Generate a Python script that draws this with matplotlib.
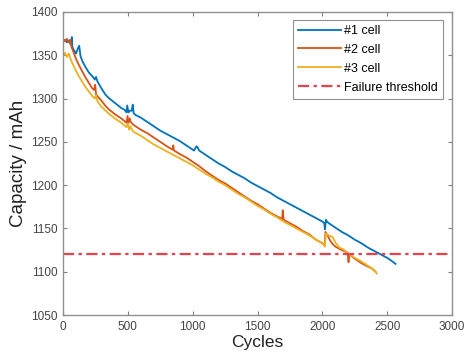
import matplotlib
matplotlib.use("Agg")
import matplotlib.pyplot as plt

# ---- data ----
c1 = [0,15,30,45,60,68,72,80,100,115,125,135,150,175,200,225,245,255,265,280,300,325,350,375,400,425,450,475,490,495,505,515,530,538,545,560,600,650,700,750,800,850,900,950,990,1000,1010,1030,1040,1050,1100,1150,1200,1250,1300,1350,1400,1450,1500,1550,1600,1650,1700,1750,1800,1850,1900,1950,2000,2015,2020,2028,2035,2050,2100,2150,2200,2250,2300,2350,2400,2450,2500,2530,2565]
v1 = [1366,1368,1365,1367,1362,1371,1360,1357,1352,1358,1361,1349,1343,1336,1330,1326,1322,1325,1320,1316,1311,1305,1301,1298,1295,1292,1289,1287,1284,1292,1284,1286,1286,1293,1283,1281,1278,1273,1268,1263,1259,1255,1251,1246,1242,1241,1240,1245,1243,1240,1235,1230,1225,1221,1216,1212,1208,1203,1199,1195,1191,1186,1182,1178,1174,1170,1166,1162,1158,1156,1149,1160,1158,1156,1151,1146,1142,1137,1133,1128,1124,1120,1116,1113,1109]

c2 = [0,15,30,45,55,65,80,100,125,150,175,200,225,240,248,255,270,300,325,350,375,400,450,490,498,505,515,522,540,560,600,650,700,750,800,845,850,856,900,950,1000,1050,1100,1150,1200,1250,1300,1350,1400,1450,1500,1550,1600,1650,1690,1695,1702,1750,1800,1850,1900,1950,2000,2018,2024,2040,2060,2080,2100,2150,2195,2202,2208,2250,2300,2350,2380,2410]
v2 = [1368,1366,1369,1365,1368,1360,1354,1346,1338,1331,1324,1318,1312,1310,1316,1305,1302,1297,1292,1288,1285,1282,1277,1272,1280,1272,1277,1273,1270,1268,1264,1260,1255,1250,1245,1241,1246,1240,1236,1232,1227,1222,1216,1211,1206,1202,1197,1192,1187,1182,1178,1173,1168,1164,1161,1171,1160,1156,1152,1147,1143,1137,1133,1130,1146,1142,1136,1132,1129,1125,1122,1111,1120,1115,1110,1106,1104,1100]

c3 = [0,15,30,45,60,75,100,125,150,175,200,225,245,255,265,300,350,400,450,490,500,510,520,540,600,650,700,750,800,850,900,950,1000,1050,1100,1150,1200,1250,1300,1350,1400,1450,1500,1550,1600,1650,1700,1750,1800,1850,1900,1950,2000,2020,2026,2050,2080,2100,2130,2160,2200,2250,2300,2350,2390,2420]
v3 = [1350,1353,1348,1352,1345,1340,1332,1325,1319,1313,1308,1303,1300,1304,1297,1290,1283,1277,1272,1267,1271,1264,1268,1262,1257,1252,1247,1243,1239,1235,1231,1227,1223,1218,1213,1209,1204,1200,1195,1190,1186,1181,1176,1172,1167,1163,1158,1154,1150,1146,1142,1137,1133,1129,1144,1142,1140,1134,1128,1126,1121,1116,1112,1107,1103,1098]

threshold = 1120
labels = ["#1 cell", "#2 cell", "#3 cell", "Failure threshold"]
xticks = [0, 500, 1000, 1500, 2000, 2500, 3000]
yticks = [1050, 1100, 1150, 1200, 1250, 1300, 1350, 1400]

plt.rcParams['font.family'] = ['Liberation Sans', 'DejaVu Sans']

fig = plt.figure(figsize=(4.68, 3.58), dpi=100)
ax = fig.add_axes([63/468, 43/358, 389/468, 303/358])

ax.plot(c1, v1, color='#0072BD', lw=1.3, label=labels[0])
ax.plot(c2, v2, color='#D95319', lw=1.3, label=labels[1])
ax.plot(c3, v3, color='#EDB120', lw=1.3, label=labels[2])
ax.axhline(threshold, color='#E8404F', lw=1.6, ls=(0, (5, 2, 1.5, 2)), label=labels[3])

ax.set_xlim(0, 3000)
ax.set_ylim(1050, 1400)
ax.set_xticks(xticks)
ax.set_yticks(yticks)
ax.tick_params(direction='in', top=True, right=True, length=3, width=0.8,
               color='#808080', labelsize=8.5, labelcolor='#444444', pad=4)
for s in ax.spines.values():
    s.set_color('#909090')
    s.set_linewidth(1.0)

ax.set_xlabel('Cycles', fontsize=12.5, color='#222222', labelpad=2)
ax.set_ylabel('Capacity / mAh', fontsize=13.5, color='#222222', labelpad=3)

leg = ax.legend(loc='upper right', bbox_to_anchor=(0.977, 0.974), borderaxespad=0,
                fontsize=9, handlelength=3.4, handletextpad=0.3, labelspacing=0.55,
                fancybox=False, framealpha=1, edgecolor='#909090', borderpad=0.4)
leg.get_frame().set_linewidth(0.8)

fig.savefig('out.png', dpi=100)
